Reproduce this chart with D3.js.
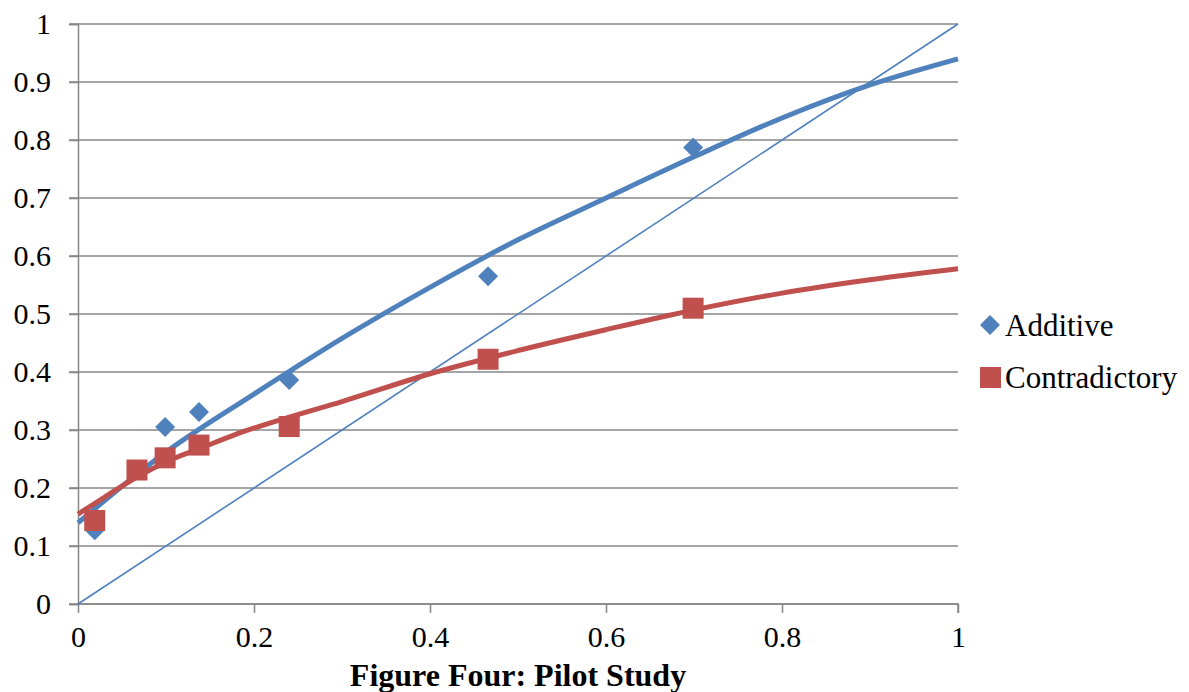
<!DOCTYPE html>
<html><head><meta charset="utf-8">
<script src="https://cdn.jsdelivr.net/npm/d3@7"></script>
<style>body{margin:0;background:#fff}svg{display:block}</style>
</head><body>
<svg id="c" width="1189" height="692"></svg>
<script>
// Data
const xTicks = [0, 0.2, 0.4, 0.6, 0.8, 1];
const yTicks = [0, 0.1, 0.2, 0.3, 0.4, 0.5, 0.6, 0.7, 0.8, 0.9, 1];
const seriesNames = ["Additive", "Contradictory"];
const additiveX = [0.019, 0.099, 0.1375, 0.24, 0.466, 0.699];
const additiveY = [0.127, 0.305, 0.331, 0.386, 0.565, 0.787];
const contraX = [0.019, 0.067, 0.099, 0.1375, 0.24, 0.466, 0.699];
const contraY = [0.144, 0.231, 0.252, 0.274, 0.306, 0.422, 0.510];
// trendlines
const additiveTrendX = [0, 0.1, 0.2, 0.3, 0.4, 0.5, 0.6, 0.7, 0.8, 0.9, 1];
const additiveTrendY = [0.14, 0.262, 0.362, 0.458, 0.546, 0.628, 0.70, 0.771, 0.838, 0.895, 0.94];
const contraTrendX = [0, 0.03, 0.067, 0.1, 0.14, 0.18, 0.24, 0.3, 0.4, 0.5, 0.6, 0.7, 0.8, 0.9, 1];
const contraTrendY = [0.155, 0.184, 0.219, 0.245, 0.269, 0.293, 0.322, 0.349, 0.397, 0.437, 0.473, 0.507, 0.536, 0.559, 0.578];
const diagonal = [0, 1];
const title = "Figure Four: Pilot Study";

const svg = d3.select("#c");
const font = "'Liberation Serif','Times New Roman',serif";
const blue = "#4F81BD", red = "#C0504D", grid = "#878787";
const x = d3.scaleLinear().domain([0, 1]).range([78, 958]);
const y = d3.scaleLinear().domain([0, 1]).range([604, 24]);

// gridlines
svg.append("g").selectAll("line").data(yTicks).join("line")
  .attr("x1", x(0) - 9).attr("x2", x(1))
  .attr("y1", d => y(d)).attr("y2", d => y(d))
  .attr("stroke", grid).attr("stroke-width", 1.5);

// axes
const yAxis = svg.append("g").attr("transform", `translate(${x(0)},0)`)
  .call(d3.axisLeft(y).tickValues(yTicks).tickSize(9).tickPadding(18).tickFormat(d3.format("")));
const xAxis = svg.append("g").attr("transform", `translate(0,${y(0)})`)
  .call(d3.axisBottom(x).tickValues(xTicks).tickSize(9).tickPadding(13).tickFormat(d3.format("")));
[yAxis, xAxis].forEach(g => {
  g.select(".domain").attr("stroke", grid).attr("stroke-width", 1.5);
  g.selectAll(".tick line").attr("stroke", grid).attr("stroke-width", 1.5);
  g.selectAll("text").attr("fill", "#000").style("font-family", font).style("font-size", "30px");
});
xAxis.select(".domain").attr("d", `M${x(0)},0H${x(1)}V9`);

// diagonal
svg.append("line").attr("x1", x(diagonal[0])).attr("y1", y(diagonal[0]))
  .attr("x2", x(diagonal[1])).attr("y2", y(diagonal[1]))
  .attr("stroke", blue).attr("stroke-width", 1.6);

const line = d3.line().x(d => x(d[0])).y(d => y(d[1])).curve(d3.curveMonotoneX);
svg.append("path").datum(d3.zip(additiveTrendX, additiveTrendY)).attr("d", line)
  .attr("fill", "none").attr("stroke", blue).attr("stroke-width", 5);
svg.append("path").datum(d3.zip(contraTrendX, contraTrendY)).attr("d", line)
  .attr("fill", "none").attr("stroke", red).attr("stroke-width", 5);

const diamond = d3.symbol().type(d3.symbolSquare).size(200);
svg.append("g").selectAll("path").data(d3.zip(additiveX, additiveY)).join("path")
  .attr("d", diamond).attr("transform", d => `translate(${x(d[0])},${y(d[1])}) rotate(45)`)
  .attr("fill", blue);
svg.append("g").selectAll("rect").data(d3.zip(contraX, contraY)).join("rect")
  .attr("x", d => x(d[0]) - 10.5).attr("y", d => y(d[1]) - 10.5)
  .attr("width", 21).attr("height", 21).attr("fill", red);

// legend
const lg = svg.append("g");
lg.append("path").attr("d", diamond).attr("transform", "translate(990,325) rotate(45)").attr("fill", blue);
lg.append("rect").attr("x", 980).attr("y", 367).attr("width", 21).attr("height", 21).attr("fill", red);
lg.selectAll("text").data(seriesNames).join("text")
  .attr("x", 1005).attr("y", (d, i) => 325 + i * 52).attr("dy", "0.35em")
  .style("font-family", font).style("font-size", "31px").text(d => d);

svg.append("text").attr("x", (x(0) + x(1)) / 2).attr("y", 686)
  .attr("text-anchor", "middle").style("font-family", font).style("font-weight", "bold")
  .style("font-size", "32px").text(title);
</script>
</body></html>
